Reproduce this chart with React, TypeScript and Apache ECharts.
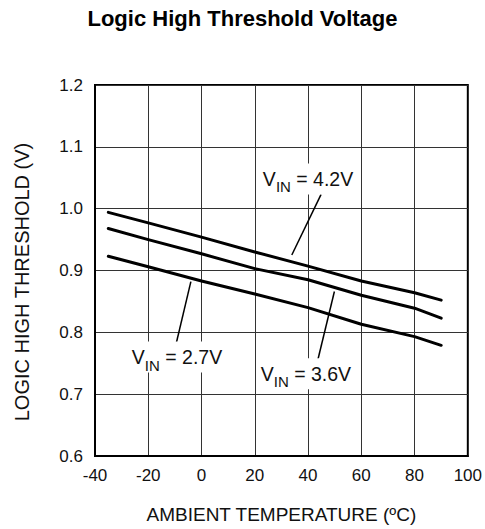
import React, { useEffect, useRef } from "react";
import * as echarts from "echarts";

// Ambient temperature (°C) sample points
const temps = [-35, -20, 0, 20, 40, 60, 80, 90];
// Logic high threshold (V) for each supply voltage
const vin42 = [0.994, 0.977, 0.954, 0.930, 0.907, 0.883, 0.864, 0.852];
const vin36 = [0.968, 0.950, 0.927, 0.903, 0.885, 0.860, 0.839, 0.823];
const vin27 = [0.923, 0.906, 0.883, 0.862, 0.840, 0.813, 0.793, 0.779];
const seriesNames = ["4.2V", "3.6V", "2.7V"];

// Annotation anchors in data coordinates [temperature, volts]
const annText = [[40, 1.048], [39.2, 0.733], [-9.2, 0.760]];
const annFrom = [[44.9, 1.023], [43.6, 0.754], [-10.0, 0.773]];
const annTo = [[33.9, 0.925], [49.9, 0.866], [-4.0, 0.882]];

const FONT = "'Liberation Sans', Arial, Helvetica, sans-serif";

export default function App() {
  const ref = useRef<HTMLDivElement>(null);
  useEffect(() => {
    if (!ref.current) return;
    const chart = echarts.init(ref.current, undefined, { renderer: "svg" });
    const all = [vin42, vin36, vin27];
    const series = all.map((vals, i) => ({
      name: seriesNames[i],
      type: "line",
      data: temps.map((t, j) => [t, vals[j]]),
      symbol: "none",
      lineStyle: { color: "#000", width: 3, cap: "round", join: "round" },
      z: 3,
      markPoint: {
        silent: true,
        symbol: "rect",
        symbolSize: 0,
        data: [{ coord: annText[i] }],
        label: {
          show: true,
          position: "inside",
          formatter: "{m|V}{s|IN}{m| = " + seriesNames[i] + "}",
          backgroundColor: "#fff",
          padding: [0, 2, 0, 2],
          rich: {
            m: { fontSize: 19.5, color: "#111", fontFamily: FONT },
            s: { fontSize: 15, color: "#111", fontFamily: FONT, padding: [16, 0, 0, 0] },
          },
        },
      },
      markLine: {
        silent: true,
        symbol: ["none", "triangle"],
        symbolSize: [0, 9],
        label: { show: false },
        lineStyle: { color: "#000", width: 1.5, type: "solid" },
        data: [[{ coord: annFrom[i] }, { coord: annTo[i] }]],
      },
    }));
    chart.setOption({
      animation: false,
      backgroundColor: "#fff",
      title: {
        text: "Logic High Threshold Voltage",
        left: "center",
        top: 2,
        textStyle: { fontSize: 22, fontWeight: "bold", color: "#000", fontFamily: FONT },
      },
      graphic: [
        {
          type: "text",
          x: 21.5,
          y: 282,
          rotation: Math.PI / 2,
          style: {
            text: "LOGIC HIGH THRESHOLD (V)",
            fontSize: 20,
            fill: "#111",
            fontFamily: FONT,
            align: "center",
            verticalAlign: "middle",
          },
        },
      ],
      grid: {
        left: 95,
        top: 85,
        right: 16,
        bottom: 70,
        show: true,
        borderColor: "#000",
        borderWidth: 2,
      },
      xAxis: {
        type: "value",
        min: -40,
        max: 100,
        interval: 20,
        name: "AMBIENT TEMPERATURE (ºC)",
        nameLocation: "middle",
        nameGap: 49,
        nameTextStyle: { fontSize: 19, color: "#111", fontFamily: FONT },
        axisLine: { show: true, onZero: false, lineStyle: { color: "#000", width: 2 } },
        axisTick: { show: false },
        axisLabel: { fontSize: 17, color: "#111", margin: 11, fontFamily: FONT, formatter: (v: number) => String(v) },
        splitLine: { show: true, lineStyle: { color: "#333", width: 1 } },
      },
      yAxis: {
        type: "value",
        min: 0.6,
        max: 1.2,
        interval: 0.1,
        axisLine: { show: true, onZero: false, lineStyle: { color: "#000", width: 2 } },
        axisTick: { show: false },
        axisLabel: { fontSize: 17, color: "#111", margin: 12, fontFamily: FONT, formatter: (v: number) => v.toFixed(1) },
        splitLine: { show: true, lineStyle: { color: "#333", width: 1 } },
      },
      series,
    });
    return () => chart.dispose();
  }, []);
  return (
    <div
      ref={ref}
      style={{ position: "fixed", left: 0, top: 0, width: 485, height: 529, background: "#fff" }}
    />
  );
}
